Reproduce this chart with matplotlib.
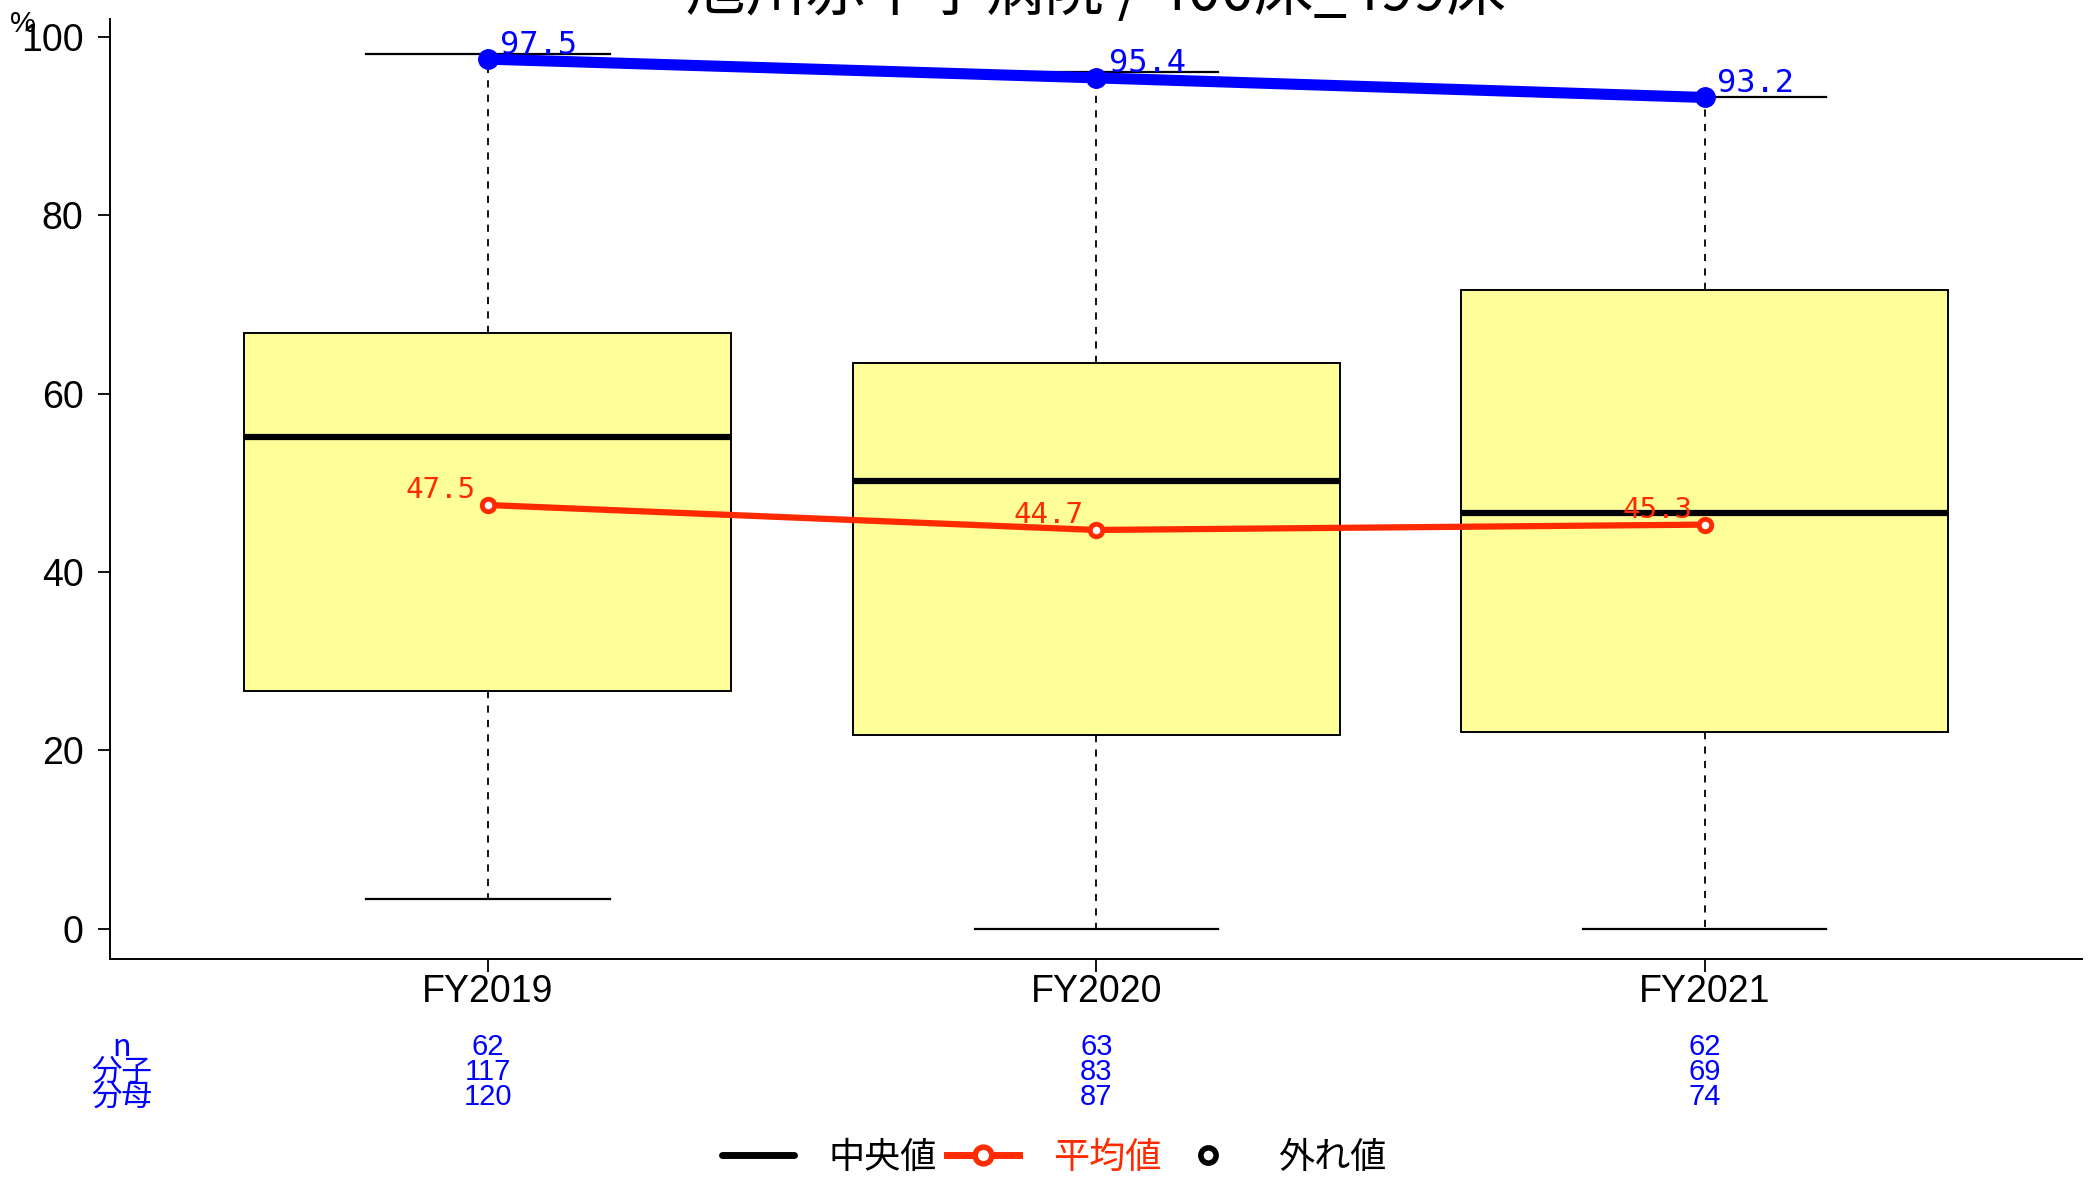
import matplotlib
matplotlib.use("Agg")
import matplotlib.pyplot as plt
from matplotlib import font_manager
from matplotlib.lines import Line2D
import matplotlib.transforms as mtransforms

# data
years = ["FY2019", "FY2020", "FY2021"]
q1 = [26.6, 21.7, 22.0]
q3 = [66.8, 63.4, 71.6]
medians = [55.1, 50.2, 46.6]
whis_lo = [3.3, 0.0, 0.0]
whis_hi = [98.1, 96.1, 93.2]
means = [47.5, 44.7, 45.3]
hospital = [97.5, 95.4, 93.2]
n_count = [62, 63, 62]
bunshi = [117, 83, 69]
bunbo = [120, 87, 74]
title = "旭川赤十字病院 / 400床_499床"

BLUE = "#0000FF"
RED = "#FF2A00"
YELLOW = "#FFFF99"

installed = {f.name for f in font_manager.fontManager.ttflist}
main_font = "Liberation Sans Narrow" if "Liberation Sans Narrow" in installed else "Liberation Sans"
tick_size = 30 if main_font == "Liberation Sans Narrow" else 27
plt.rcParams['font.family'] = [main_font, 'Noto Sans CJK JP', 'DejaVu Sans']
cjk = ['Noto Sans CJK JP', 'DejaVu Sans']

W, H = 2089, 1180
fig = plt.figure(figsize=(W / 100, H / 100), dpi=100)
ax = fig.add_axes([110 / W, 1 - 959 / H, (2082 - 110) / W, (959 - 19) / H])

positions = [1, 2, 3]
stats = []
for i in range(len(years)):
    stats.append(dict(med=medians[i], q1=q1[i], q3=q3[i],
                      whislo=whis_lo[i], whishi=whis_hi[i], fliers=[], label=years[i]))

ax.bxp(stats, positions=positions, widths=0.8, capwidths=0.4, patch_artist=True,
       showfliers=False,
       boxprops=dict(facecolor=YELLOW, edgecolor="black", linewidth=1.4),
       medianprops=dict(color="black", linewidth=4.5),
       whiskerprops=dict(color="black", linewidth=1.3, linestyle=(0, (4, 4))),
       capprops=dict(color="black", linewidth=1.6))

# mean line (red) and hospital line (blue)
ax.plot(positions, means, color=RED, lw=4.5, marker="o", ms=9, mfc="white",
        mec=RED, mew=3.5, zorder=5)
ax.plot(positions, hospital, color=BLUE, lw=8, marker="o", ms=14, mfc=BLUE,
        mec=BLUE, zorder=6, solid_capstyle="butt")

for x, v in zip(positions, hospital):
    ax.annotate(f"{v}", (x, v), xytext=(9, 4), textcoords="offset points",
                ha="left", va="baseline", color=BLUE, fontsize=23,
                family="DejaVu Sans Mono", zorder=7)
for x, v in zip(positions, means):
    ax.annotate(f"{v}", (x, v), xytext=(-9, 5), textcoords="offset points",
                ha="right", va="baseline", color=RED, fontsize=21,
                family="DejaVu Sans Mono", zorder=7)

ax.set_xlim(0.379, 3.62)
ax.set_ylim(-3.41, 102.0)
ax.set_yticks([0, 20, 40, 60, 80, 100])
ax.set_xticks(positions)
ax.set_xticklabels(years)
ax.tick_params(axis="both", direction="out", length=9, width=1.3, labelsize=tick_size)
ax.tick_params(axis="y", pad=10)
ax.tick_params(axis="x", pad=2)
for s in ["top", "right"]:
    ax.spines[s].set_visible(False)
for s in ["left", "bottom"]:
    ax.spines[s].set_linewidth(1.4)

fig.text(23 / W, 1 - 24 / H, "%", ha="center", va="center", fontsize=21)
fig.text((110 + 2082) / 2 / W, 1 - 10 / H, title, ha="center", va="baseline",
         fontsize=43, family=cjk)

# count table under the axis
trans = mtransforms.blended_transform_factory(ax.transData, fig.transFigure)
row_y = [1 - 1047 / H, 1 - 1072 / H, 1 - 1097 / H]
row_names = ["n", "分子", "分母"]
row_vals = [n_count, bunshi, bunbo]
for name, yy, vals in zip(row_names, row_y, row_vals):
    fig.text(122 / W, yy, name, ha="center", va="center", color=BLUE,
             fontsize=22, family=cjk)
    for x, v in zip(positions, vals):
        ax.text(x, yy, str(v), transform=trans, ha="center", va="center",
                color=BLUE, fontsize=21)

handles = [
    Line2D([], [], color="black", lw=5, solid_capstyle="round"),
    Line2D([], [], color=RED, lw=5, marker="o", ms=12, mfc="white", mec=RED, mew=4),
    Line2D([], [], color="none", marker="o", ms=11, mfc="white", mec="black", mew=4),
]
leg = fig.legend(handles, ["中央値", "平均値", "外れ値"], loc="center",
                 bbox_to_anchor=(0.5046, 1 - 1158 / H), ncol=3, frameon=False,
                 handlelength=2.0, handletextpad=0.95, columnspacing=0.28,
                 prop=dict(family=cjk, size=26))
for t, c in zip(leg.get_texts(), ["black", RED, "black"]):
    t.set_color(c)

fig.savefig("out.png", dpi=100)
